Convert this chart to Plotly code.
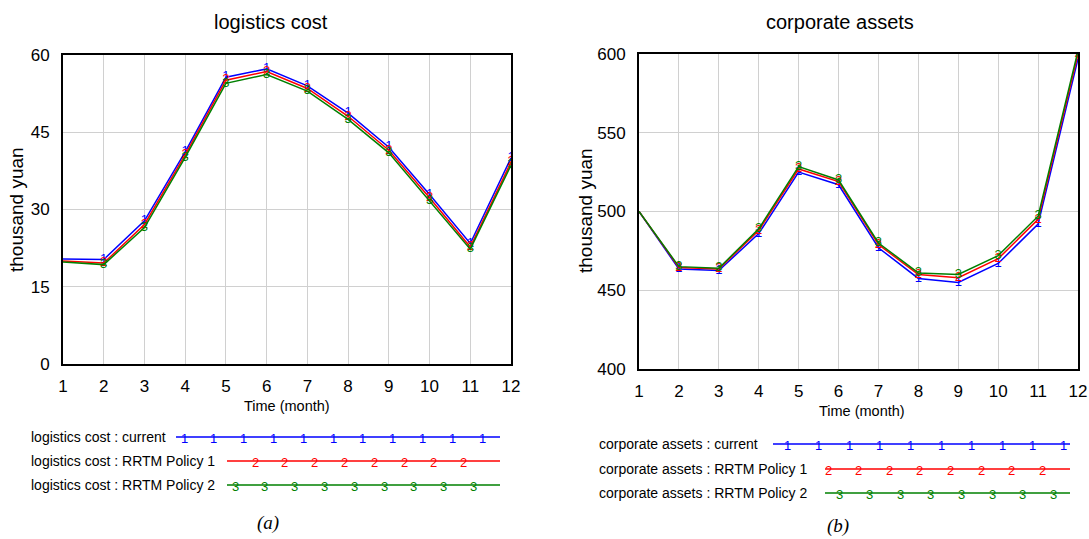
import plotly.graph_objects as go

# ---------------- data ----------------
months = list(range(1, 13))

lc_current = [20.4, 20.3, 27.8, 41.2, 55.7, 57.3, 54.0, 48.7, 42.1, 32.9, 23.4, 40.0]
lc_policy1 = [20.0, 19.6, 27.1, 40.6, 55.1, 56.8, 53.5, 48.1, 41.5, 32.3, 22.7, 39.2]
lc_policy2 = [19.8, 19.3, 26.5, 40.1, 54.5, 56.2, 53.0, 47.5, 41.0, 31.7, 22.3, 38.6]

ca_current = [500, 463.5, 462.5, 486, 525, 517, 477, 457.5, 455, 467, 492, 597]
ca_policy1 = [500, 464.5, 463.5, 488, 527, 519, 479, 460, 458, 470, 495, 600]
ca_policy2 = [500, 465, 464, 489, 528.5, 520, 480, 461, 460, 472, 497, 602]

lc_ticks = [0, 15, 30, 45, 60]
ca_ticks = [400, 450, 500, 550, 600]

series_names = ["current", "RRTM Policy 1", "RRTM Policy 2"]
colors = ["#0000ff", "#ff0000", "#008000"]
marks = ["1", "2", "3"]

W, H = 1089, 539
SANS = "Liberation Sans Narrow, Arial Narrow, Liberation Sans, Arial, sans-serif"
REG = "Liberation Sans, Arial, sans-serif"
SERIF = "Liberation Serif, Times New Roman, serif"


def X(p):
    return p / W


def Y(p):
    return 1 - p / H


fig = go.Figure()

left_sets = [lc_current, lc_policy1, lc_policy2]
right_sets = [ca_current, ca_policy1, ca_policy2]

for vals, col, mk in zip(left_sets, colors, marks):
    fig.add_trace(go.Scatter(
        x=months, y=vals, mode="lines+text", xaxis="x", yaxis="y",
        text=[""] + [mk] * (len(months) - 1), textposition="middle center",
        textfont=dict(color=col, size=13, family=SANS),
        line=dict(color=col, width=1.5), showlegend=False, cliponaxis=True))

for vals, col, mk in zip(right_sets, colors, marks):
    fig.add_trace(go.Scatter(
        x=months, y=vals, mode="lines+text", xaxis="x2", yaxis="y2",
        text=[""] + [mk] * (len(months) - 1), textposition="middle center",
        textfont=dict(color=col, size=13, family=SANS),
        line=dict(color=col, width=1.5), showlegend=False, cliponaxis=True))

axis_common = dict(
    showgrid=True, gridcolor="#d0d0d0", gridwidth=1,
    showline=True, mirror=True, linecolor="black", linewidth=2,
    ticks="", zeroline=False, fixedrange=True, automargin=False,
    tickfont=dict(family=SANS, size=17, color="black"),
)

fig.update_layout(
    width=W, height=H, margin=dict(l=0, r=0, t=0, b=0, pad=0, autoexpand=False),
    paper_bgcolor="white", plot_bgcolor="white",
    xaxis=dict(domain=[X(63), X(511)], range=[1, 12], tickvals=months,
               anchor="y", ticklabelstandoff=6, **axis_common),
    yaxis=dict(domain=[Y(364), Y(55)], range=[0, 60], tickvals=lc_ticks,
               anchor="x", ticklabelstandoff=8, **axis_common),
    xaxis2=dict(domain=[X(639), X(1078)], range=[1, 12], tickvals=months,
                anchor="y2", ticklabelstandoff=6, **axis_common),
    yaxis2=dict(domain=[Y(369), Y(54)], range=[400, 600], tickvals=ca_ticks,
                anchor="x2", ticklabelstandoff=8, **axis_common),
)

ann = []


def text_at(txt, px, py, size, family=SANS, color="black", xanchor="center", angle=0):
    ann.append(dict(text=txt, x=X(px), y=Y(py), xref="paper", yref="paper",
                    xanchor=xanchor, yanchor="middle", showarrow=False, textangle=angle,
                    font=dict(family=family, size=size, color=color)))


# titles
text_at("logistics cost", 271, 22, 20)
text_at("corporate assets", 840, 22, 20)
# axis titles
text_at("Time (month)", 287, 406, 14.5)
text_at("Time (month)", 862, 411, 14.5)
text_at("thousand yuan", 16, 210, 19, family=REG, angle=-90)
text_at("thousand yuan", 585, 211, 19, family=REG, angle=-90)
# captions
text_at("<i>(a)</i>", 268, 523, 19, family=SERIF)
text_at("<i>(b)</i>", 838, 526, 19, family=SERIF)

shapes = []

# custom Vensim-style legends
legend_specs = [
    ("logistics cost", 29, [(437, 176, 500, 184, 29.8, 11),
                            (461, 227, 500, 255, 29.8, 8),
                            (485, 227, 500, 235, 29.8, 9)]),
    ("corporate assets", 597, [(444, 773, 1070, 788, 30.6, 10),
                               (469, 825, 1070, 828, 30.6, 8),
                               (493, 825, 1070, 839, 30.6, 8)]),
]
for prefix, tx, rows in legend_specs:
    for (yy, x0, x1, m0, dm, n), name, col, mk in zip(rows, series_names, colors, marks):
        text_at(f"{prefix} : {name}", tx, yy, 14, xanchor="left")
        shapes.append(dict(type="line", xref="paper", yref="paper",
                           x0=X(x0), x1=X(x1), y0=Y(yy), y1=Y(yy),
                           line=dict(color=col, width=1.5)))
        for k in range(n):
            text_at(mk, m0 + k * dm, yy + 1, 13, color=col)

fig.update_layout(annotations=ann, shapes=shapes)

fig.write_html("out.html", config={"displayModeBar": False},
               post_script="document.body.style.margin='0px';")
